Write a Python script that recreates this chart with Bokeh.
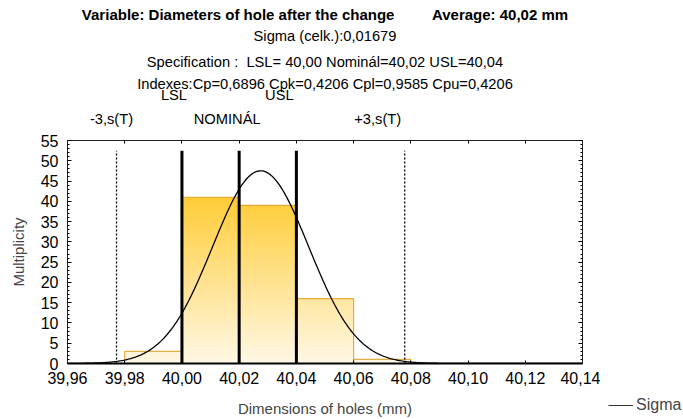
import numpy as np
from bokeh.plotting import figure
from bokeh.layouts import row, column
from bokeh.models import (FixedTicker, LinearAxis, Range1d, Legend, LegendItem, Title, Spacer)
from bokeh.embed import file_html
from bokeh.resources import INLINE

# ---------------- data ----------------
bin_left = [39.98, 40.00, 40.02, 40.04, 40.06]
bin_right = [40.00, 40.02, 40.04, 40.06, 40.08]
counts = [3, 41, 39, 16, 1]

x_ticks = [39.96, 39.98, 40.00, 40.02, 40.04, 40.06, 40.08, 40.10, 40.12, 40.14]
x_tick_labels = ["39,96", "39,98", "40,00", "40,02", "40,04", "40,06", "40,08", "40,10", "40,12", "40,14"]
y_ticks = [0, 5, 10, 15, 20, 25, 30, 35, 40, 45, 50, 55]
y_minor = list(range(0, 56))

mean_value = 40.0275
sigma = 0.01679
n_total = sum(counts)
bin_width = 0.02

spec_values = [40.00, 40.02, 40.04]          # LSL, NOMINAL, USL
sigma_lines = [mean_value - 3 * sigma, mean_value + 3 * sigma]
line_top = 52.5

NB = "\u00a0"
title_row1 = "Variable: Diameters of hole after the change" + NB * 9 + "Average: 40,02 mm"
title_row2 = "Sigma (celk.):0,01679"
title_row3 = "Specification :" + NB + " LSL= 40,00 Nominál=40,02 USL=40,04"
title_row4 = "Indexes:Cp=0,6896 Cpk=0,4206 Cpl=0,9585 Cpu=0,4206"
upper_labels = ["LSL", "USL"]
upper_values = [spec_values[0], spec_values[2]]
upper_px_off = [-8, -17]
lower_labels = ["-3,s(T)", "NOMINÁL", "+3,s(T)"]
lower_values = [sigma_lines[0], spec_values[1], sigma_lines[1]]
lower_px_off = [-5, -12, -27]

FONT = "Liberation Sans"
X0, X1 = 39.96, 40.14
FRAME_W = 515
px_per_unit = FRAME_W / (X1 - X0)

p = figure(width=600, height=419, output_backend="svg", toolbar_location=None,
           x_range=Range1d(X0, X1), y_range=Range1d(0, 55),
           min_border_left=67, min_border_right=18, min_border_top=140, min_border_bottom=56)
p.title.visible = False
p.xgrid.visible = False
p.ygrid.visible = False
p.outline_line_color = "#222222"
p.outline_line_width = 1

# ---------------- histogram (vertical gradient fill, painted bottom-up) ----------------
top_rgb = np.array([255, 204, 55])
bot_rgb = np.array([255, 248, 230])
ymax = max(counts)
dy = 0.25
sl, sr, sb, st, sc = [], [], [], [], []
for l, r, h in zip(bin_left, bin_right, counts):
    y = 0.0
    while y < h:
        y1 = min(y + dy, h)
        t = ((y + y1) / 2) / ymax
        c = bot_rgb + (top_rgb - bot_rgb) * t
        sl.append(l); sr.append(r); sb.append(y); st.append(h)
        sc.append("#%02x%02x%02x" % tuple(int(round(v)) for v in c))
        y = y1
p.quad(left=sl, right=sr, bottom=sb, top=st, fill_color=sc, line_color=None)
p.quad(left=bin_left, right=bin_right, bottom=0, top=counts, fill_color=None,
       line_color="#DDA22A", line_width=1.2, line_alpha=0.85)

# ---------------- normal curve ----------------
xs = np.linspace(X0, X1, 400)
ys = n_total * bin_width / (sigma * np.sqrt(2 * np.pi)) * np.exp(-0.5 * ((xs - mean_value) / sigma) ** 2)
curve = p.line(xs, ys, line_color="black", line_width=1.3)

# ---------------- spec lines ----------------
p.segment(x0=spec_values, y0=0, x1=spec_values, y1=line_top, line_color="black", line_width=3)
p.segment(x0=sigma_lines, y0=0, x1=sigma_lines, y1=line_top, line_color="black",
          line_width=1.3, line_dash="2 2")

# ---------------- axes ----------------
xa = p.xaxis[0]
xa.ticker = FixedTicker(ticks=x_ticks)
xa.major_label_overrides = {t: s for t, s in zip(x_ticks, x_tick_labels)}
xa.major_tick_in = 3
xa.major_tick_out = 0
xa.minor_tick_line_color = None
xa.axis_line_color = "black"
xa.axis_line_width = 2
xa.major_label_text_font = FONT
xa.major_label_text_font_size = "16px"
xa.major_label_text_color = "black"
xa.major_label_standoff = 8
xa.axis_label = "Dimensions of holes (mm)"
xa.axis_label_text_font = FONT
xa.axis_label_text_font_size = "15px"
xa.axis_label_text_font_style = "normal"
xa.axis_label_standoff = 13

ya = p.yaxis[0]
ya.ticker = FixedTicker(ticks=y_ticks, minor_ticks=y_minor)
ya.major_tick_in = 4
ya.major_tick_out = 0
ya.minor_tick_in = 2
ya.minor_tick_out = 0
ya.axis_line_color = "#222222"
ya.major_label_text_font = FONT
ya.major_label_text_font_size = "16px"
ya.major_label_text_color = "black"
ya.major_label_standoff = 9
ya.axis_label = "Multiplicity"
ya.axis_label_text_font = FONT
ya.axis_label_text_font_size = "15px"
ya.axis_label_text_font_style = "normal"
ya.axis_label_standoff = 11

ra = LinearAxis(ticker=FixedTicker(ticks=y_ticks, minor_ticks=y_minor),
                major_tick_in=4, major_tick_out=0, minor_tick_in=2, minor_tick_out=0,
                major_label_text_font_size="0px", major_label_standoff=0,
                axis_line_color="#222222")
p.add_layout(ra, "right")

# top axis: x ticks as (inward) minor ticks, spec names as labels
lower_pos = [v + o / px_per_unit for v, o in zip(lower_values, lower_px_off)]
ta = LinearAxis(ticker=FixedTicker(ticks=lower_pos, minor_ticks=x_ticks),
                major_tick_in=0, major_tick_out=0, minor_tick_in=3, minor_tick_out=0,
                axis_line_color="#222222", major_label_standoff=14,
                major_label_text_font=FONT, major_label_text_font_size="14.7px",
                major_label_text_color="black")
ta.major_label_overrides = {t: s for t, s in zip(lower_pos, lower_labels)}
p.add_layout(ta, "above")

upper_pos = [v + o / px_per_unit for v, o in zip(upper_values, upper_px_off)]
ta2 = LinearAxis(ticker=FixedTicker(ticks=upper_pos, minor_ticks=[]),
                 major_tick_in=0, major_tick_out=0, axis_line_color=None,
                 major_label_standoff=5,
                 major_label_text_font=FONT, major_label_text_font_size="14.7px",
                 major_label_text_color="black",
                 axis_label=title_row4, axis_label_standoff=-8,
                 axis_label_text_font=FONT, axis_label_text_font_size="14.7px",
                 axis_label_text_font_style="normal", axis_label_text_color="black")
ta2.major_label_overrides = {t: s for t, s in zip(upper_pos, upper_labels)}
p.add_layout(ta2, "above")

# ---------------- titles (stacked upward) ----------------
for txt, so, off, bold in [(title_row3, 5, -2, False), (title_row2, 11, 4, False),
                           (title_row1, -5, 6, True)]:
    p.add_layout(Title(text=txt, align="center", offset=off,
                       text_font=FONT, text_font_size="15px" if bold else "14.7px",
                       text_font_style="bold" if bold else "normal",
                       text_color="black", standoff=so), "above")

# ---------------- legend (small figure at the bottom right) ----------------
p2 = figure(width=83, height=36, output_backend="svg", toolbar_location=None,
            x_range=Range1d(0, 1), y_range=Range1d(0, 1), min_border=0,
            x_axis_location=None, y_axis_location=None)
p2.title.visible = False
p2.grid.visible = False
p2.outline_line_color = None
sigma_key = p2.line(xs, ys, line_color="#333333", line_width=1)   # outside p2's ranges: key only
legend = Legend(items=[LegendItem(label="Sigma", renderers=[sigma_key])],
                location=(8, 5), padding=0, margin=0, spacing=0,
                border_line_alpha=0, background_fill_alpha=0,
                glyph_width=25, glyph_height=16, label_height=16, label_standoff=3,
                label_text_font=FONT, label_text_font_size="16px")
p2.add_layout(legend, "center")

layout = row(p, column(Spacer(width=83, height=383), p2))
open("out.html", "w").write(file_html(layout, INLINE))
